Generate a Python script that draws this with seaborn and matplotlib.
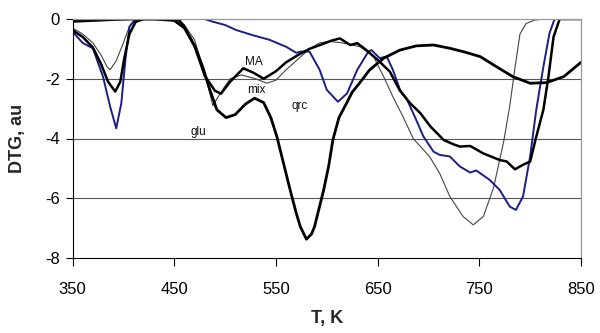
import numpy as np
import pandas as pd
import matplotlib
matplotlib.use("Agg")
import matplotlib.pyplot as plt
import seaborn as sns

# ---- data ----
glu_T = [350, 370, 390, 410, 430, 450, 460, 470, 478, 485, 492, 501, 510, 520, 529, 538, 545, 551,
         558, 564, 570, 574, 580, 585, 588, 592, 597, 602, 606, 612, 619, 625, 631, 642, 656, 672,
         688, 705, 721, 735, 751, 767, 783, 800, 816, 833, 850]
glu_D = [-0.08, -0.05, -0.02, 0.0, 0.0, -0.05, -0.3, -0.9, -1.6, -2.37, -3.04, -3.3, -3.2, -2.85, -2.65,
         -2.8, -3.3, -3.94, -4.9, -5.72, -6.5, -6.95, -7.37, -7.2, -6.95, -6.4, -5.72, -4.9, -4.05, -3.3,
         -2.85, -2.45, -2.2, -1.71, -1.31, -1.04, -0.9, -0.87, -0.98, -1.1, -1.26, -1.6, -1.93, -2.15,
         -2.13, -1.93, -1.45]

MA_T = [350, 360, 370, 378, 385, 392, 397, 401, 406, 412, 420, 440, 455, 460, 470, 480, 490, 496,
        505, 518, 528, 538, 550, 560, 572, 583, 595, 605, 613, 623, 630, 639, 652, 662, 672, 682, 692,
        702, 715, 725, 731, 741, 754, 770, 777, 785, 793, 800, 806, 813, 818, 823, 829, 840, 850]
MA_D = [-0.37, -0.6, -0.95, -1.5, -2.1, -2.43, -2.1, -1.3, -0.5, -0.1, 0.0, 0.0, -0.05, -0.25, -0.9,
        -1.9, -2.4, -2.5, -2.1, -1.65, -1.8, -2.0, -1.75, -1.45, -1.2, -1.0, -0.85, -0.72, -0.65, -0.87,
        -0.81, -1.04, -1.43, -1.76, -2.4, -2.82, -3.15, -3.6, -4.05, -4.2, -4.27, -4.25, -4.5, -4.72,
        -4.77, -5.03, -4.88, -4.77, -3.94, -3.04, -1.93, -0.6, 0.0, 0.0, 0.0]

mix_T = [350, 360, 370, 378, 384, 387, 393, 400, 406, 412, 420, 440, 455, 460, 470, 480, 488, 495,
         505, 516, 530, 541, 550, 560, 570, 583, 593, 603, 615, 633, 646, 656, 665, 675, 685, 701, 711,
         721, 734, 744, 754, 764, 774, 780, 785, 790, 796, 805, 816, 850]
mix_D = [-0.3, -0.5, -0.8, -1.2, -1.6, -1.7, -1.4, -0.8, -0.25, -0.05, 0.0, 0.0, -0.05, -0.2, -0.7,
         -1.8, -2.9, -2.5, -2.0, -1.87, -2.0, -2.15, -2.05, -1.7, -1.4, -1.0, -0.8, -0.75, -0.8, -0.93,
         -1.26, -1.93, -2.6, -3.27, -4.0, -4.6, -5.16, -5.94, -6.61, -6.89, -6.61, -5.65, -4.1, -2.9,
         -1.65, -0.5, -0.15, -0.03, 0.0, 0.0]

qrc_T = [350, 360, 370, 380, 387, 393, 398, 402, 406, 411, 420, 440, 450, 462, 470, 478, 488, 500,
         511, 527, 544, 560, 570, 575, 583, 593, 600, 611, 620, 630, 641, 644, 652, 659, 665, 672, 679,
         688, 695, 705, 711, 721, 731, 741, 747, 760, 770, 780, 786, 793, 800, 806, 813, 819, 824, 835, 850]
qrc_D = [-0.42, -0.8, -0.98, -1.93, -2.93, -3.66, -2.82, -1.37, -0.26, -0.03, 0.0, 0.0, -0.02, 0.05,
         0.0, 0.02, -0.09, -0.2, -0.37, -0.54, -0.7, -0.93, -1.13, -1.09, -1.09, -1.7, -2.37, -2.77,
         -2.49, -1.7, -1.09, -1.04, -1.31, -1.26, -1.7, -2.37, -2.7, -3.38, -3.93, -4.44, -4.55, -4.6,
         -4.94, -5.14, -5.07, -5.38, -5.72, -6.28, -6.39, -5.94, -4.6, -3.04, -1.6, -0.48, 0.0, 0.0, 0.0]

x_ticks = [350, 450, 550, 650, 750, 850]
y_ticks = [0, -2, -4, -6, -8]
labels = {"MA": (528, -1.45), "mix": (531, -2.37), "qrc": (573, -2.9), "glu": (474, -3.78)}

# ---- plot ----
sns.set_style("white")
plt.rcParams['font.family'] = ['Liberation Sans', 'DejaVu Sans']
plt.rcParams['axes.unicode_minus'] = False

fig = plt.figure(figsize=(6.0, 3.33), dpi=100)
ax = fig.add_axes([72.5 / 600, 1 - 258 / 333, (581 - 72.5) / 600, (258 - 19) / 333])

# gridlines
for yv in [-2, -4, -6]:
    ax.axhline(yv, color="#555555", lw=0.8, zorder=0)

series = [
    (mix_T, mix_D, "#444444", 0.8),
    (qrc_T, qrc_D, "#1c1c8a", 1.4),
    (MA_T, MA_D, "#000000", 1.8),
    (glu_T, glu_D, "#000000", 2.0),
]
for T, D, c, lw in series:
    sns.lineplot(x=T, y=D, ax=ax, color=c, lw=lw, sort=False, estimator=None)

for name, (tx, ty) in labels.items():
    ax.text(tx, ty, name, fontsize=8.5, ha="center", va="center", color="#111111")

ax.set_xlim(350, 850)
ax.set_ylim(-8, 0)
ax.set_xticks(x_ticks)
ax.set_yticks(y_ticks)
ax.tick_params(axis="x", direction="out", length=6, width=0.8, pad=11, labelsize=12, colors="black", bottom=True)
ax.tick_params(axis="y", direction="out", length=5, width=0.8, pad=4, labelsize=12, colors="black", left=True)

for s in ["left", "bottom"]:
    ax.spines[s].set_color("black")
    ax.spines[s].set_linewidth(0.8)
for s in ["top", "right"]:
    ax.spines[s].set_color("#999999")
    ax.spines[s].set_linewidth(0.9)

ax.set_xlabel("T, K", fontsize=13, fontweight="bold")
ax.set_ylabel("DTG, au", fontsize=13, fontweight="bold")
ax.xaxis.set_label_coords(0.5, (258 - 310) / 239)
ax.yaxis.set_label_coords((26 - 72.5) / 508.5, 0.5)

fig.savefig("out.png", dpi=100)
